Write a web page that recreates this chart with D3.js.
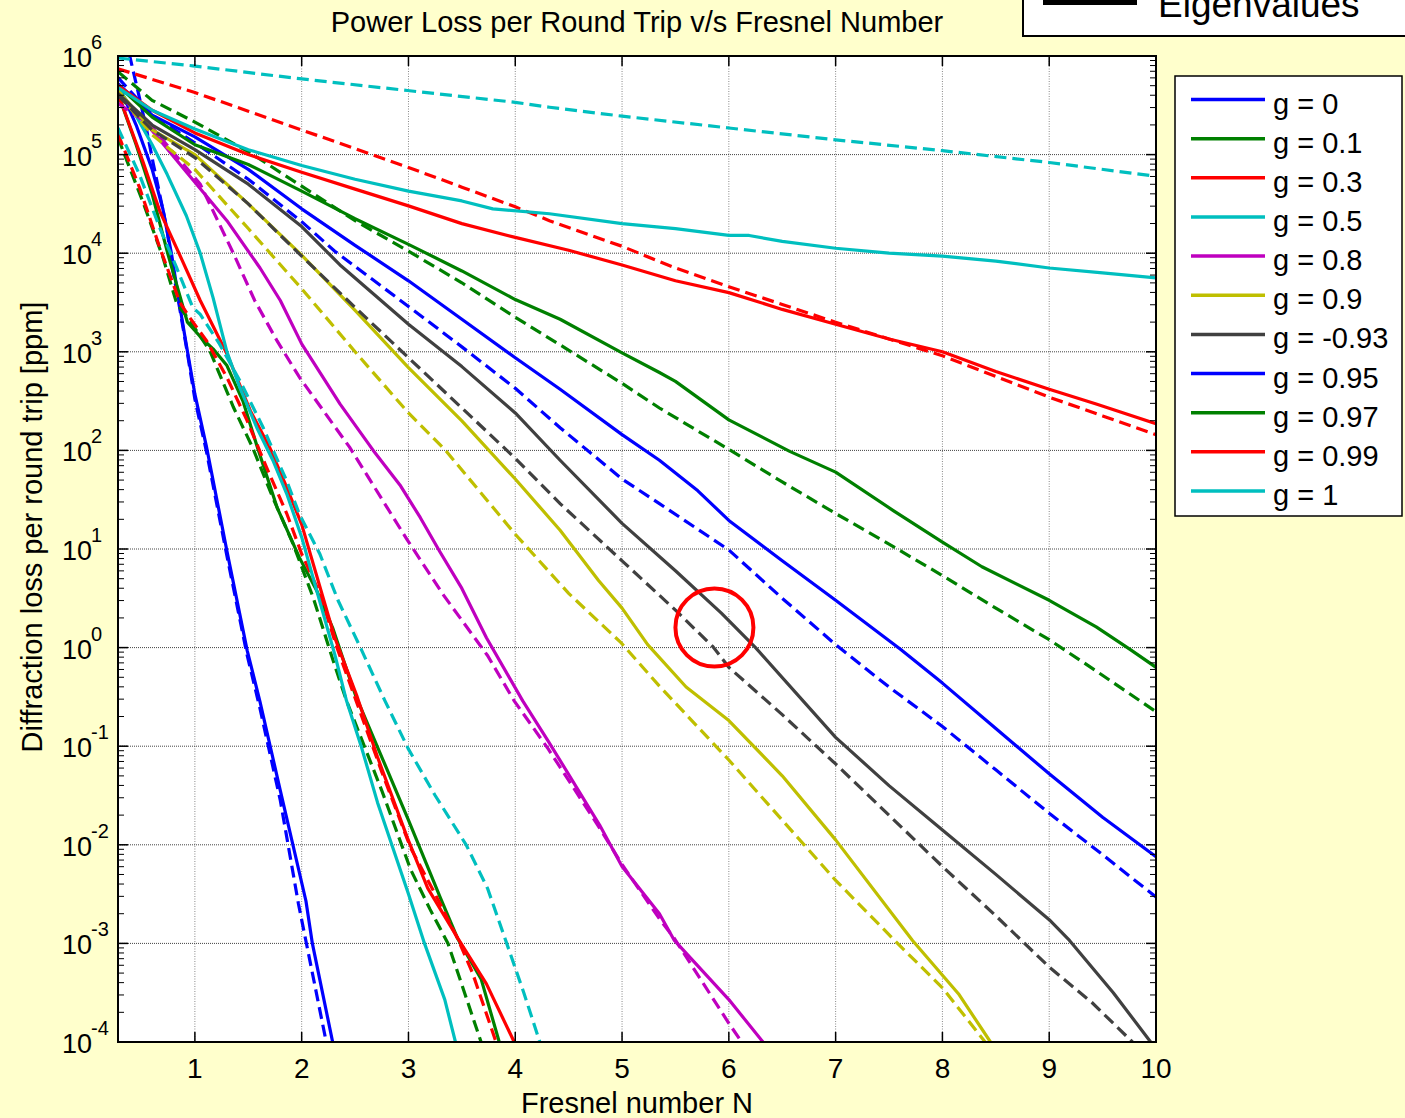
<!DOCTYPE html>
<html><head><meta charset="utf-8">
<script src="https://cdn.jsdelivr.net/npm/d3@7"></script>
<style>
html,body{margin:0;padding:0;background:#ffffcc;}
svg{display:block;}
text{font-family:"Liberation Sans",Arial,Helvetica,sans-serif;fill:#000;}
</style></head><body>
<svg id="chart" width="1405" height="1118"></svg>
<script>
// ---------- DATA (x = Fresnel number N, second value = log10 of loss in ppm) ----------
const gLabels = ["g = 0","g = 0.1","g = 0.3","g = 0.5","g = 0.8","g = 0.9","g = -0.93","g = 0.95","g = 0.97","g = 0.99","g = 1"];
const xTickValues = [1,2,3,4,5,6,7,8,9,10];
const yTickExponents = [-4,-3,-2,-1,0,1,2,3,4,5,6];
const titleText = "Power Loss per Round Trip v/s Fresnel Number";
const xLabelText = "Fresnel number N";
const yLabelText = "Diffraction loss per round trip [ppm]";
const topLegendText = "Eigenvalues";
const markCircle = [5.865, 1.6]; // N, loss (ppm)

const solid_g0    = [[0.28,5.72],[0.45,5.3],[0.6,4.85],[0.7,4.45],[0.78,4.0],[0.85,3.52],[0.92,3.07],[1.0,2.57],[1.11,2.03],[1.3,0.98],[1.49,-0.03],[1.61,-0.55],[1.8,-1.45],[2.04,-2.57],[2.1,-3.0],[2.29,-4.0]];
const solid_g01   = [[0.28,5.62],[0.45,5.1],[0.6,4.6],[0.75,3.98],[0.93,3.3],[1.07,3.13],[1.17,3.03],[1.3,2.86],[1.45,2.5],[1.58,2.05],[1.77,1.42],[1.98,0.91],[2.14,0.58],[2.29,0.2],[2.42,-0.22],[2.51,-0.5],[2.75,-1.11],[3.0,-1.75],[3.3,-2.54],[3.46,-2.95],[3.68,-3.36],[3.85,-4.0]];
const solid_g03   = [[0.28,5.62],[0.51,4.94],[0.67,4.43],[0.88,3.93],[1.05,3.52],[1.3,2.98],[1.52,2.4],[1.7,2.03],[1.85,1.65],[2.0,1.25],[2.31,0.1],[2.52,-0.5],[2.71,-1.11],[2.99,-1.93],[3.18,-2.44],[3.48,-2.98],[3.73,-3.41],[3.99,-4.0]];
const solid_g05   = [[0.28,5.68],[0.42,5.45],[0.6,5.1],[0.74,4.8],[0.92,4.38],[1.05,4.0],[1.17,3.55],[1.3,3.0],[1.42,2.64],[1.58,2.23],[1.73,1.9],[1.86,1.56],[2.0,1.12],[2.14,0.58],[2.31,-0.07],[2.42,-0.54],[2.56,-1.01],[2.71,-1.57],[3.0,-2.5],[3.15,-3.0],[3.34,-3.57],[3.44,-4.0]];
const solid_g08   = [[0.28,5.62],[0.48,5.4],[0.93,4.81],[1.3,4.33],[1.61,3.85],[1.8,3.52],[2.0,3.08],[2.36,2.47],[2.67,2.0],[2.92,1.65],[3.11,1.32],[3.29,0.98],[3.5,0.6],[3.73,0.1],[4.07,-0.54],[4.31,-0.95],[4.79,-1.8],[5.0,-2.22],[5.35,-2.7],[5.49,-2.97],[6.0,-3.57],[6.32,-4.0]];
const solid_g09   = [[0.28,5.65],[0.6,5.25],[1.0,5.0],[1.5,4.5],[2.0,3.98],[2.5,3.42],[3.0,2.84],[3.5,2.3],[4.0,1.71],[4.42,1.19],[4.78,0.68],[5.0,0.4],[5.24,0.03],[5.6,-0.4],[6.0,-0.74],[6.5,-1.3],[7.0,-1.95],[7.72,-2.97],[8.15,-3.51],[8.45,-4.0]];
const solid_gm093 = [[0.28,5.62],[0.6,5.3],[1.0,5.05],[1.5,4.7],[2.0,4.27],[2.37,3.87],[3.0,3.28],[3.5,2.85],[4.0,2.38],[4.42,1.9],[5.0,1.26],[5.5,0.78],[5.93,0.35],[6.25,0.0],[7.0,-0.91],[7.5,-1.4],[8.0,-1.85],[8.5,-2.3],[9.0,-2.76],[9.19,-2.97],[9.6,-3.5],[9.95,-4.0]];
const solid_g095  = [[0.28,5.72],[0.6,5.4],[1.0,5.18],[1.5,4.85],[2.0,4.45],[2.5,4.08],[3.0,3.72],[3.5,3.33],[4.0,2.94],[4.42,2.62],[5.0,2.16],[5.35,1.9],[5.71,1.59],[6.0,1.29],[6.5,0.88],[7.0,0.48],[7.61,-0.02],[8.0,-0.36],[8.5,-0.82],[9.0,-1.28],[9.5,-1.72],[10,-2.12]];
const solid_g097  = [[0.28,5.7],[0.6,5.38],[1.0,5.1],[1.5,4.9],[2.0,4.63],[2.5,4.35],[3.0,4.09],[3.5,3.82],[4.0,3.53],[4.42,3.33],[5.0,2.99],[5.35,2.79],[5.5,2.7],[6.0,2.31],[6.57,1.99],[7.0,1.78],[7.54,1.39],[8.0,1.07],[8.37,0.82],[9.0,0.48],[9.44,0.21],[9.76,-0.02],[10,-0.2]];
const solid_g099  = [[0.28,5.7],[0.6,5.45],[1.0,5.22],[1.5,5.0],[2.0,4.82],[2.5,4.65],[3.0,4.48],[3.5,4.3],[4.0,4.16],[4.5,4.03],[5.0,3.88],[5.5,3.72],[6.0,3.6],[6.5,3.43],[7.0,3.28],[7.5,3.13],[8.0,3.0],[8.5,2.8],[9.0,2.62],[9.44,2.47],[10,2.27]];
const solid_g1    = [[0.28,5.68],[0.6,5.45],[1.0,5.26],[1.5,5.05],[2.0,4.89],[2.5,4.75],[3.0,4.63],[3.5,4.53],[3.79,4.45],[4.32,4.4],[5.0,4.3],[5.5,4.25],[6.0,4.18],[6.19,4.18],[6.5,4.12],[7.0,4.05],[7.5,4.0],[8.0,3.97],[8.5,3.92],[9.0,3.85],[9.5,3.8],[10,3.75]];

const dashed_g0    = [[0.36,6.2],[0.39,6.0],[0.48,5.58],[0.55,5.24],[0.61,4.91],[0.67,4.6],[0.74,4.23],[0.79,3.85],[0.85,3.49],[0.92,3.05],[1.0,2.52],[1.11,1.98],[1.3,0.93],[1.49,-0.08],[1.61,-0.62],[1.8,-1.55],[1.97,-2.6],[2.1,-3.3],[2.23,-4.0]];
const dashed_g01   = [[0.28,5.17],[0.51,4.53],[0.7,3.96],[0.83,3.49],[0.95,3.32],[1.14,3.01],[1.36,2.44],[1.54,2.03],[1.73,1.52],[1.92,1.05],[2.11,0.5],[2.3,-0.15],[2.42,-0.54],[2.75,-1.45],[3.02,-2.25],[3.2,-2.65],[3.37,-3.0],[3.68,-4.0]];
const dashed_g03   = [[0.28,5.21],[0.48,4.67],[0.67,4.06],[0.86,3.5],[0.95,3.35],[1.11,3.11],[1.3,2.74],[1.49,2.3],[1.67,1.83],[1.86,1.36],[2.0,0.95],[2.17,0.55],[2.33,0.0],[2.51,-0.54],[2.75,-1.26],[3.02,-2.03],[3.25,-2.5],[3.46,-2.95],[3.6,-3.3],[3.82,-4.0]];
const dashed_g05   = [[0.28,5.27],[0.48,4.8],[0.67,4.26],[0.83,3.85],[0.98,3.45],[1.05,3.38],[1.23,3.08],[1.42,2.71],[1.64,2.23],[1.86,1.69],[1.98,1.35],[2.17,0.95],[2.34,0.48],[2.55,0.0],[2.78,-0.54],[3.0,-1.03],[3.25,-1.5],[3.54,-2.0],[3.74,-2.44],[3.92,-3.0],[4.08,-3.5],[4.23,-4.0]];
const dashed_g08   = [[0.28,5.52],[0.58,5.3],[1.05,4.7],[1.36,4.0],[1.56,3.52],[1.77,3.11],[1.98,2.74],[2.45,2.03],[2.99,1.09],[3.33,0.53],[3.74,-0.08],[3.99,-0.54],[4.31,-1.03],[4.79,-1.83],[5.0,-2.2],[5.35,-2.75],[5.49,-2.95],[6.0,-3.81],[6.12,-4.0]];
const dashed_g09   = [[0.28,5.62],[0.6,5.2],[1.0,4.85],[1.5,4.25],[2.0,3.64],[2.5,3.0],[3.0,2.38],[3.34,2.01],[4.0,1.15],[4.5,0.55],[4.99,0.05],[5.35,-0.39],[6.0,-1.14],[6.5,-1.75],[7.0,-2.36],[7.58,-3.0],[8.0,-3.45],[8.4,-4.0]];
const dashed_gm093 = [[0.28,5.6],[0.6,5.25],[1.0,4.97],[1.5,4.5],[2.0,3.97],[2.5,3.45],[3.0,2.94],[3.5,2.43],[4.0,1.92],[4.42,1.46],[5.0,0.88],[5.5,0.38],[5.85,0.01],[6.0,-0.2],[6.5,-0.68],[7.0,-1.18],[7.5,-1.7],[8.0,-2.22],[8.5,-2.72],[9.0,-3.24],[9.4,-3.6],[9.78,-4.0]];
const dashed_g095  = [[0.28,5.78],[0.6,5.4],[1.0,5.12],[1.5,4.75],[2.0,4.32],[2.31,4.02],[3.0,3.46],[3.5,3.05],[4.0,2.63],[4.42,2.23],[5.0,1.71],[5.35,1.46],[6.0,0.99],[6.5,0.5],[7.0,0.03],[7.5,-0.4],[8.0,-0.8],[8.5,-1.24],[9.0,-1.68],[9.5,-2.1],[10,-2.53]];
const dashed_g097  = [[0.28,5.84],[0.6,5.55],[1.0,5.33],[1.5,5.03],[2.0,4.68],[2.5,4.33],[3.0,4.02],[3.5,3.7],[4.0,3.35],[4.42,3.07],[5.0,2.68],[5.35,2.43],[6.0,2.01],[6.5,1.68],[7.0,1.36],[7.5,1.05],[8.0,0.73],[8.5,0.4],[9.0,0.08],[9.43,-0.23],[10,-0.65]];
const dashed_g099  = [[0.28,5.87],[1.0,5.63],[1.5,5.44],[2.0,5.25],[2.5,5.06],[3.0,4.87],[3.5,4.67],[4.0,4.47],[4.32,4.33],[5.0,4.07],[5.5,3.85],[6.0,3.66],[6.5,3.48],[7.0,3.3],[7.5,3.13],[8.0,2.96],[8.5,2.75],[9.0,2.54],[9.5,2.35],[10,2.16]];
const dashed_g1    = [[0.28,5.98],[0.98,5.9],[1.98,5.77],[2.99,5.65],[4.0,5.53],[4.32,5.48],[5.0,5.39],[6.0,5.27],[7.0,5.15],[8.0,5.04],[9.0,4.92],[10,4.78]];

const solidSeries  = [solid_g0, solid_g01, solid_g03, solid_g05, solid_g08, solid_g09, solid_gm093, solid_g095, solid_g097, solid_g099, solid_g1];
const dashedSeries = [dashed_g0, dashed_g01, dashed_g03, dashed_g05, dashed_g08, dashed_g09, dashed_gm093, dashed_g095, dashed_g097, dashed_g099, dashed_g1];

// ---------- STYLE ----------
const colors = ["#0000ff","#008000","#ff0000","#00bfbf","#bf00bf","#bfbf00","#404040","#0000ff","#008000","#ff0000","#00bfbf"];
const P = {left:118, right:1156, top:56, bottom:1042};

const svg = d3.select("#chart");
const x = d3.scaleLinear().domain([0.28, 10]).range([P.left, P.right]);
const y = d3.scaleLog().domain([1e-4, 1e6]).range([P.bottom, P.top]);

svg.append("rect").attr("width",1405).attr("height",1118).attr("fill","#ffffcc");
svg.append("rect").attr("x",P.left).attr("y",P.top).attr("width",P.right-P.left).attr("height",P.bottom-P.top).attr("fill","#fff");

// grid
const grid = svg.append("g");
xTickValues.forEach(v => grid.append("line").attr("x1",x(v)).attr("x2",x(v)).attr("y1",P.top).attr("y2",P.bottom)
  .attr("stroke","#888").attr("stroke-width",1).attr("stroke-dasharray","1,1.5"));
yTickExponents.forEach(e => grid.append("line").attr("x1",P.left).attr("x2",P.right).attr("y1",y(Math.pow(10,e))).attr("y2",y(Math.pow(10,e)))
  .attr("stroke","#444").attr("stroke-width",1).attr("stroke-dasharray","1,1"));

// curves
svg.append("clipPath").attr("id","clip").append("rect").attr("x",P.left).attr("y",P.top).attr("width",P.right-P.left).attr("height",P.bottom-P.top);
const line = d3.line().x(d => x(d[0])).y(d => y(Math.pow(10, d[1])));
const plot = svg.append("g").attr("clip-path","url(#clip)");
solidSeries.forEach((s,i) => {
  plot.append("path").attr("d", line(s)).attr("fill","none").attr("stroke",colors[i]).attr("stroke-width",3.2).attr("stroke-linejoin","round");
  plot.append("path").attr("d", line(dashedSeries[i])).attr("fill","none").attr("stroke",colors[i]).attr("stroke-width",3.2).attr("stroke-dasharray","12,6");
});

// red circle mark
plot.append("circle").attr("cx",x(markCircle[0])).attr("cy",y(markCircle[1])).attr("r",39)
  .attr("fill","none").attr("stroke","#ff0000").attr("stroke-width",4);

// axes box + ticks
const ax = svg.append("g").attr("stroke","#000");
ax.append("rect").attr("x",P.left).attr("y",P.top).attr("width",P.right-P.left).attr("height",P.bottom-P.top).attr("fill","none").attr("stroke-width",2);
xTickValues.forEach(v => {
  ax.append("line").attr("x1",x(v)).attr("x2",x(v)).attr("y1",P.bottom).attr("y2",P.bottom-10).attr("stroke-width",1.5);
  ax.append("line").attr("x1",x(v)).attr("x2",x(v)).attr("y1",P.top).attr("y2",P.top+10).attr("stroke-width",1.5);
});
yTickExponents.forEach(e => {
  const yy = y(Math.pow(10,e));
  ax.append("line").attr("x1",P.left).attr("x2",P.left+10).attr("y1",yy).attr("y2",yy).attr("stroke-width",1.5);
  ax.append("line").attr("x1",P.right).attr("x2",P.right-10).attr("y1",yy).attr("y2",yy).attr("stroke-width",1.5);
  if (e < 6) for (let m = 2; m <= 9; m++) {
    const ym = y(m*Math.pow(10,e));
    ax.append("line").attr("x1",P.left).attr("x2",P.left+6).attr("y1",ym).attr("y2",ym).attr("stroke-width",1);
    ax.append("line").attr("x1",P.right).attr("x2",P.right-6).attr("y1",ym).attr("y2",ym).attr("stroke-width",1);
  }
});

// tick labels
xTickValues.forEach(v => svg.append("text").attr("x",x(v)).attr("y",P.bottom+36).attr("text-anchor","middle")
  .attr("font-size",28).text(v));
yTickExponents.forEach(e => {
  const t = svg.append("text").attr("x",62).attr("y",y(Math.pow(10,e))+11).attr("font-size",27);
  t.append("tspan").text("10");
  t.append("tspan").attr("dy",-18).attr("dx",-1).attr("font-size",20).text(e);
});

// titles
svg.append("text").attr("x",(P.left+P.right)/2).attr("y",32).attr("text-anchor","middle").attr("font-size",29).text(titleText);
svg.append("text").attr("x",(P.left+P.right)/2).attr("y",1113).attr("text-anchor","middle").attr("font-size",29).text(xLabelText);
svg.append("text").attr("transform","translate(42,527) rotate(-90)").attr("text-anchor","middle").attr("font-size",29).text(yLabelText);

// legend
const lg = svg.append("g");
lg.append("rect").attr("x",1175).attr("y",76).attr("width",227).attr("height",440).attr("fill","#fff").attr("stroke","#000").attr("stroke-width",1.5);
gLabels.forEach((lab,i) => {
  const ly = 99.5 + i*39.15;
  lg.append("line").attr("x1",1191).attr("x2",1265).attr("y1",ly).attr("y2",ly).attr("stroke",colors[i]).attr("stroke-width",3.5);
  lg.append("text").attr("x",1273).attr("y",ly+14).attr("font-size",29).text(lab);
});

// partial top legend
const tl = svg.append("g");
tl.append("rect").attr("x",1023).attr("y",-10).attr("width",420).attr("height",46).attr("fill","#fff").attr("stroke","#000").attr("stroke-width",2);
tl.append("rect").attr("x",1043).attr("y",-5).attr("width",94).attr("height",10).attr("fill","#000");
tl.append("text").attr("x",1158).attr("y",17).attr("font-size",37).text(topLegendText);
</script>
</body></html>
